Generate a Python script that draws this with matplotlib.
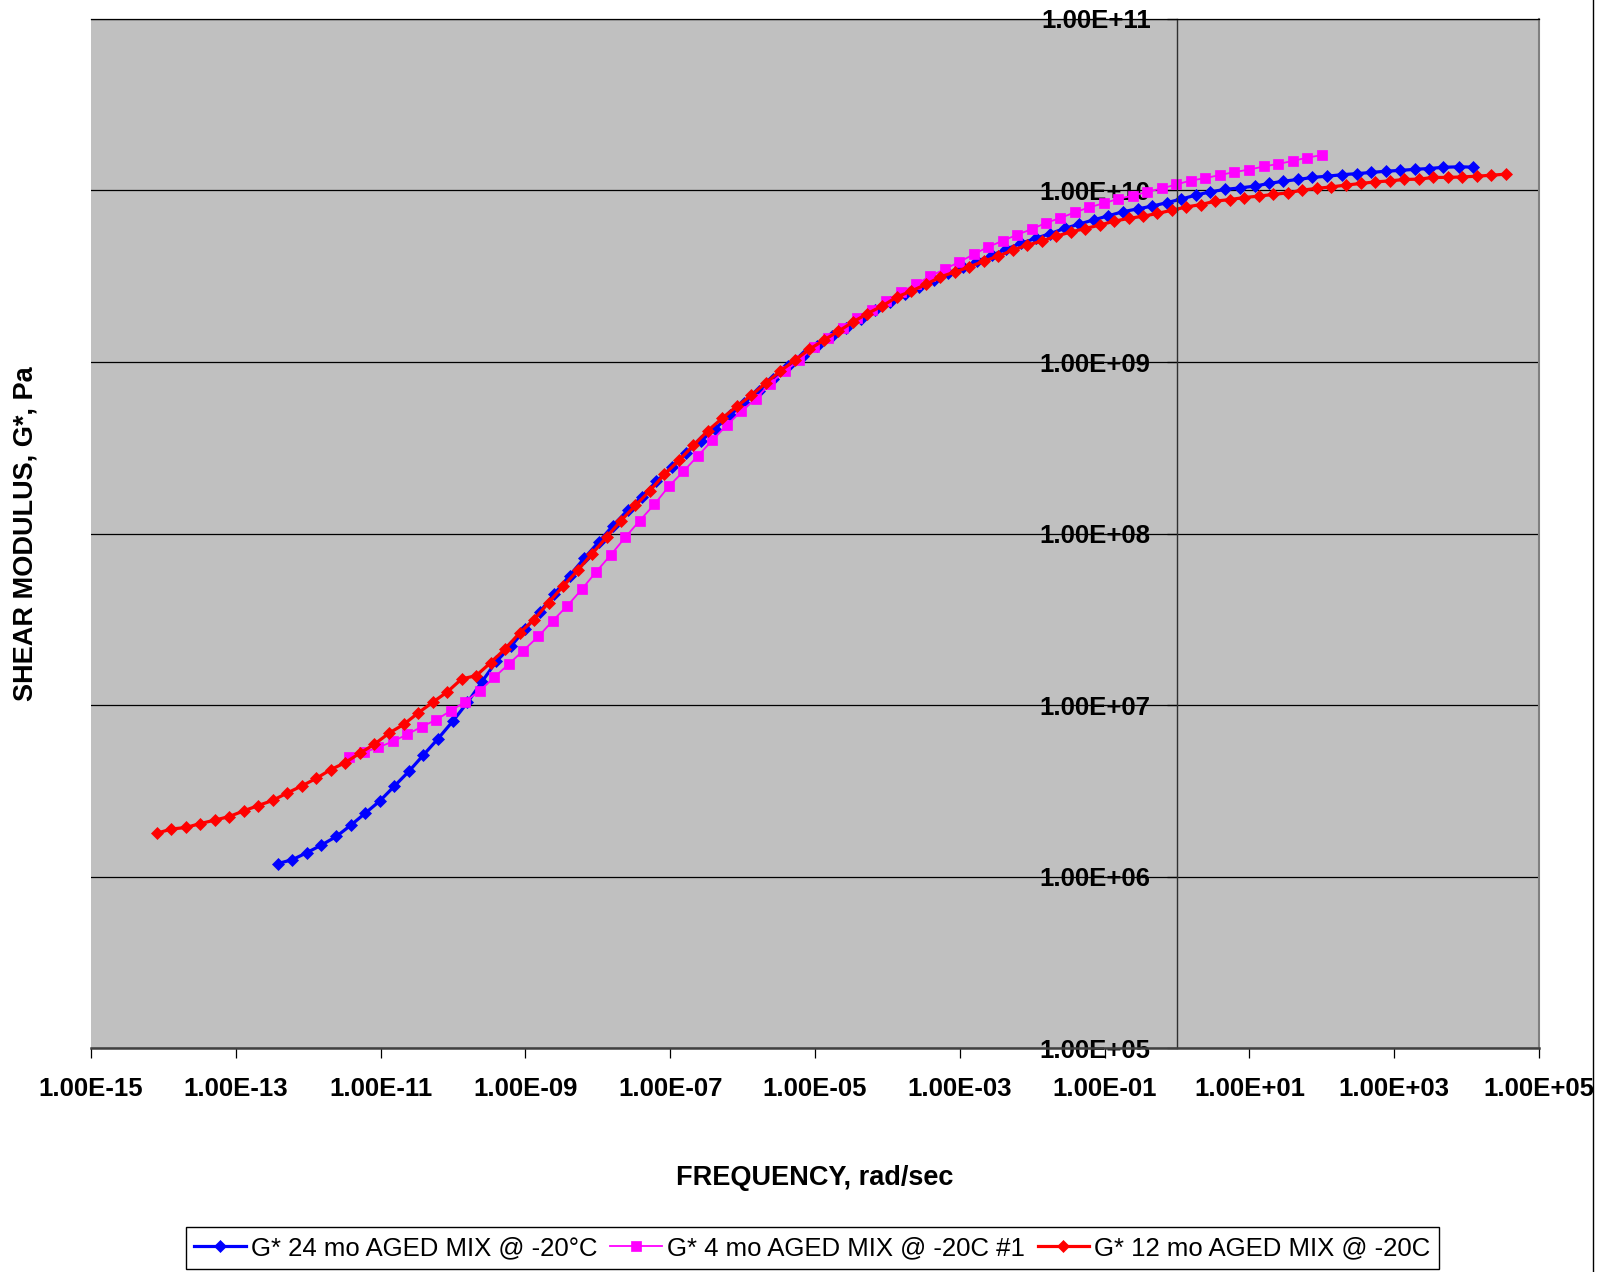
import matplotlib as mpl
import matplotlib.pyplot as plt
import numpy as np
from matplotlib.ticker import FixedLocator, FuncFormatter, NullLocator
from matplotlib.lines import Line2D

mpl.rc('font', family=['Liberation Sans', 'DejaVu Sans'], weight='bold')

# log10 of frequency (rad/sec) and log10 of G* (Pa)
logw_24mo = [-12.42, -12.22, -12.02, -11.82, -11.61, -11.41, -11.21, -11.01, -10.81, -10.61,
             -10.41, -10.21, -10.00, -9.80, -9.60, -9.40, -9.20, -9.00, -8.80, -8.60,
             -8.39, -8.19, -7.99, -7.79, -7.59, -7.39, -7.19, -6.98, -6.78, -6.58,
             -6.38, -6.18, -5.98, -5.78, -5.58, -5.37, -5.17, -4.97, -4.77, -4.57,
             -4.37, -4.17, -3.97, -3.76, -3.56, -3.36, -3.16, -2.96, -2.76, -2.56,
             -2.36, -2.15, -1.95, -1.75, -1.55, -1.35, -1.15, -0.95, -0.75, -0.54,
             -0.34, -0.14, 0.06, 0.26, 0.46, 0.66, 0.87, 1.07, 1.27, 1.47,
             1.67, 1.87, 2.07, 2.28, 2.48, 2.68, 2.88, 3.08, 3.28, 3.48,
             3.68, 3.89, 4.09]
logg_24mo = [6.077, 6.099, 6.140, 6.184, 6.235, 6.301, 6.371, 6.442, 6.528, 6.614,
             6.709, 6.803, 6.908, 7.016, 7.137, 7.256, 7.343, 7.445, 7.544, 7.649,
             7.755, 7.855, 7.950, 8.047, 8.135, 8.216, 8.304, 8.387, 8.471, 8.539,
             8.611, 8.689, 8.761, 8.833, 8.903, 8.974, 9.036, 9.096, 9.149, 9.200,
             9.253, 9.302, 9.350, 9.395, 9.435, 9.480, 9.520, 9.552, 9.587, 9.622,
             9.658, 9.693, 9.721, 9.749, 9.779, 9.804, 9.829, 9.852, 9.876, 9.893,
             9.909, 9.929, 9.950, 9.973, 9.992, 10.006, 10.015, 10.025, 10.041, 10.054,
             10.064, 10.076, 10.083, 10.092, 10.098, 10.105, 10.112, 10.117, 10.123, 10.128,
             10.135, 10.138, 10.136]

logw_4mo = [-11.43, -11.23, -11.03, -10.83, -10.63, -10.43, -10.23, -10.03, -9.83, -9.63,
            -9.43, -9.23, -9.03, -8.82, -8.62, -8.42, -8.22, -8.02, -7.82, -7.62,
            -7.42, -7.22, -7.02, -6.82, -6.62, -6.42, -6.22, -6.02, -5.82, -5.62,
            -5.42, -5.22, -5.02, -4.82, -4.62, -4.42, -4.22, -4.02, -3.81, -3.61,
            -3.41, -3.21, -3.01, -2.81, -2.61, -2.41, -2.21, -2.01, -1.81, -1.61,
            -1.41, -1.21, -1.01, -0.81, -0.61, -0.41, -0.21, -0.01, 0.19, 0.39,
            0.59, 0.79, 1.00, 1.20, 1.40, 1.60, 1.80, 2.00]
logg_4mo = [6.695, 6.725, 6.754, 6.789, 6.830, 6.875, 6.915, 6.968, 7.020, 7.085,
            7.162, 7.240, 7.318, 7.401, 7.493, 7.580, 7.676, 7.779, 7.876, 7.979,
            8.076, 8.170, 8.275, 8.362, 8.452, 8.543, 8.631, 8.713, 8.786, 8.874,
            8.946, 9.010, 9.088, 9.142, 9.198, 9.257, 9.306, 9.354, 9.408, 9.452,
            9.500, 9.541, 9.583, 9.627, 9.671, 9.706, 9.742, 9.774, 9.811, 9.840,
            9.873, 9.902, 9.926, 9.951, 9.970, 9.992, 10.012, 10.035, 10.058, 10.072,
            10.090, 10.107, 10.122, 10.140, 10.155, 10.172, 10.192, 10.206]

logw_12mo = [-14.09, -13.89, -13.69, -13.49, -13.29, -13.09, -12.89, -12.69, -12.49, -12.29,
             -12.09, -11.89, -11.69, -11.49, -11.29, -11.09, -10.88, -10.68, -10.48, -10.28,
             -10.08, -9.88, -9.68, -9.48, -9.28, -9.08, -8.88, -8.68, -8.48, -8.28,
             -8.08, -7.88, -7.68, -7.48, -7.28, -7.08, -6.88, -6.68, -6.48, -6.28,
             -6.08, -5.88, -5.68, -5.48, -5.28, -5.08, -4.88, -4.68, -4.48, -4.28,
             -4.07, -3.87, -3.67, -3.47, -3.27, -3.07, -2.87, -2.67, -2.47, -2.27,
             -2.07, -1.87, -1.67, -1.47, -1.27, -1.07, -0.87, -0.67, -0.47, -0.27,
             -0.07, 0.13, 0.33, 0.53, 0.73, 0.93, 1.13, 1.33, 1.53, 1.73,
             1.93, 2.13, 2.33, 2.54, 2.74, 2.94, 3.14, 3.34, 3.54, 3.74,
             3.94, 4.14, 4.34, 4.54]
logg_12mo = [6.254, 6.278, 6.287, 6.310, 6.330, 6.351, 6.384, 6.415, 6.445, 6.488,
             6.529, 6.573, 6.624, 6.665, 6.719, 6.771, 6.838, 6.888, 6.955, 7.017,
             7.077, 7.153, 7.172, 7.248, 7.328, 7.421, 7.499, 7.598, 7.693, 7.785,
             7.882, 7.979, 8.076, 8.164, 8.251, 8.345, 8.427, 8.514, 8.600, 8.673,
             8.742, 8.806, 8.878, 8.947, 9.010, 9.074, 9.127, 9.179, 9.232, 9.282,
             9.327, 9.379, 9.414, 9.452, 9.496, 9.525, 9.554, 9.588, 9.617, 9.652,
             9.681, 9.705, 9.733, 9.758, 9.778, 9.798, 9.821, 9.837, 9.850, 9.866,
             9.885, 9.904, 9.918, 9.938, 9.947, 9.959, 9.967, 9.977, 9.986, 10.002,
             10.012, 10.021, 10.031, 10.041, 10.050, 10.056, 10.064, 10.066, 10.076, 10.076,
             10.079, 10.083, 10.089, 10.095]

labels = ['G* 24 mo AGED MIX @ -20°C', 'G* 4 mo AGED MIX @ -20C #1', 'G* 12 mo AGED MIX @ -20C']

fig = plt.figure(figsize=(16.12, 12.72), dpi=100)
ax = fig.add_axes([0.05645, 0.17586, 0.8983, 0.80928])
ax.set_facecolor('#c0c0c0')

ax.plot(np.power(10, logw_24mo), np.power(10, logg_24mo), color='#0000ff', lw=2.3,
        marker='D', ms=6.6, mew=0.5, label=labels[0])
ax.plot(np.power(10, logw_4mo), np.power(10, logg_4mo), color='#ff00ff', lw=1.3,
        marker='s', ms=7.0, mew=0.5, label=labels[1])
ax.plot(np.power(10, logw_12mo), np.power(10, logg_12mo), color='#ff0000', lw=2.3,
        marker='D', ms=6.6, mew=0.5, label=labels[2])

ax.set_xscale('log')
ax.set_yscale('log')
ax.set_xlim(1e-15, 1e5)
ax.set_ylim(1e5, 1e11)

fmt = FuncFormatter(lambda v, p: f'{v:.2E}')
ax.xaxis.set_major_locator(FixedLocator(10.0 ** np.arange(-15, 6, 2)))
ax.yaxis.set_major_locator(FixedLocator(10.0 ** np.arange(5, 12)))
ax.xaxis.set_minor_locator(NullLocator())
ax.yaxis.set_minor_locator(NullLocator())
ax.xaxis.set_major_formatter(fmt)
ax.yaxis.set_major_formatter(fmt)

ax.tick_params(axis='both', direction='out', length=7, width=0.9, labelsize=18.5, pad=12)
ax.tick_params(axis='x', pad=14)

ax.yaxis.grid(True, color='black', lw=0.9)
ax.xaxis.grid(False)

ax.spines['left'].set_position(('data', 1.0))
ax.spines['left'].set_color('#303030')
ax.spines['left'].set_linewidth(1.0)
ax.spines['bottom'].set_color('#404040')
ax.spines['bottom'].set_linewidth(1.8)
ax.spines['top'].set_color('black')
ax.spines['top'].set_linewidth(0.9)
ax.spines['right'].set_color('#808080')
ax.spines['right'].set_linewidth(1.5)

ax.set_xlabel('FREQUENCY, rad/sec', fontsize=19.5, fontweight='bold')
ax.xaxis.label.set_va('center')
ax.xaxis.set_label_coords(0.5, -0.126)
ax.set_ylabel('SHEAR MODULUS, G*, Pa', fontsize=19.5, fontweight='bold')
ax.yaxis.label.set_va('center')
ax.yaxis.set_label_coords(-0.045, 0.5)

leg = ax.legend(loc='center', bbox_to_anchor=(0.504, 0.0189), bbox_transform=fig.transFigure,
                ncol=3, frameon=True, fancybox=False, edgecolor='black', framealpha=1,
                prop={'size': 18.5, 'weight': 'normal'}, handlelength=2.0, handletextpad=0.2,
                columnspacing=0.5, borderpad=0.35, borderaxespad=0)
leg.get_frame().set_linewidth(1.0)

fig.add_artist(Line2D([0.9882, 0.9882], [0, 1], transform=fig.transFigure, color='black', lw=1))

fig.savefig('out.png', dpi=100)
